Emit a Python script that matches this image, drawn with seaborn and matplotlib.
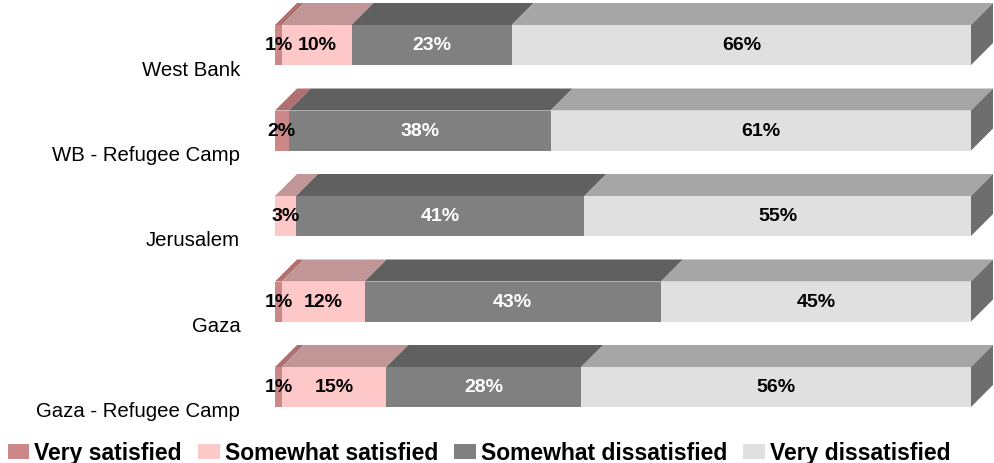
import matplotlib
matplotlib.use("Agg")
import matplotlib.pyplot as plt
import seaborn as sns
import numpy as np
from matplotlib.patches import Polygon, Patch

categories = ["West Bank", "WB - Refugee Camp", "Jerusalem", "Gaza", "Gaza - Refugee Camp"]
series_names = ["Very satisfied", "Somewhat satisfied", "Somewhat dissatisfied", "Very dissatisfied"]
very_satisfied = [1, 2, 0, 1, 1]
somewhat_satisfied = [10, 0, 3, 12, 15]
somewhat_dissatisfied = [23, 38, 41, 43, 28]
very_dissatisfied = [66, 61, 55, 45, 56]

front_colors = ["#CC8888", "#FFC8C8", "#808080", "#E0E0E0"]
top_colors = ["#B07070", "#C09696", "#606060", "#A6A6A6"]
side_color = "#6E6E6E"
label_colors = ["black", "black", "white", "black"]

sns.set_style("white")
plt.rcParams['font.family'] = ['Liberation Sans', 'DejaVu Sans']
plt.rcParams['text.color'] = 'black'
plt.rcParams['ytick.color'] = 'black'

W, H = 994, 464
fig = plt.figure(figsize=(W / 100, H / 100), dpi=100)
ax_left, ax_right = 275, 971
ax_top, ax_bot = 0, 420
ax = fig.add_axes([ax_left / W, 1 - ax_bot / H, (ax_right - ax_left) / W, (ax_bot - ax_top) / H])

px_per_unit_x = (ax_right - ax_left) / 100.0
px_per_cat = 85.5
c0 = 46
bar_h = 40 / px_per_cat
dx = 22 / px_per_unit_x
dy = 22 / px_per_cat

data = np.array([very_satisfied, somewhat_satisfied, somewhat_dissatisfied, very_dissatisfied], dtype=float)
# 100% stacked: normalise each category to its total
share = data / data.sum(axis=0, keepdims=True) * 100
cum = np.cumsum(share, axis=0)
lefts = cum - share

# front faces via seaborn (draw largest cumulative first)
for k in range(3, -1, -1):
    sns.barplot(x=cum[k], y=categories, order=categories, orient="h", color=front_colors[k],
                saturation=1, width=bar_h, ax=ax, linewidth=0)

ax.set_xlim(0, 100)
ax.set_ylim((ax_bot - c0) / px_per_cat, (ax_top - c0) / px_per_cat)

# 3D top and side faces
for i in range(len(categories)):
    ytop = i - bar_h / 2
    ybot = i + bar_h / 2
    for k in range(4):
        l, r = lefts[k, i], cum[k, i]
        if r - l <= 0:
            continue
        poly = Polygon([(l, ytop), (r, ytop), (r + dx, ytop - dy), (l + dx, ytop - dy)],
                       closed=True, facecolor=top_colors[k], edgecolor="none", clip_on=False)
        ax.add_patch(poly)
    r = cum[3, i]
    side = Polygon([(r, ytop), (r + dx, ytop - dy), (r + dx, ybot - dy), (r, ybot)],
                   closed=True, facecolor=side_color, edgecolor="none", clip_on=False)
    ax.add_patch(side)
    # value labels
    for k in range(4):
        v = data[k, i]
        if v <= 0:
            continue
        ax.text((lefts[k, i] + cum[k, i]) / 2, i, f"{int(v)}%", ha="center", va="center",
                fontsize=14, fontweight="bold", color=label_colors[k])

ax.set_yticks(np.arange(len(categories)) + dy)
ax.set_yticklabels(categories, fontsize=14.7, color="black")
ax.tick_params(axis="y", length=0, pad=25)
ax.set_xticks([])
ax.set_xlabel("")
ax.set_ylabel("")
for s in ax.spines.values():
    s.set_visible(False)

handles = [Patch(facecolor=front_colors[k], edgecolor="none", label=series_names[k]) for k in range(4)]
fig.legend(handles=handles, loc="lower left", bbox_to_anchor=(-0.005, -0.03), ncol=4, frameon=False,
           prop={"weight": "bold", "size": 16.5}, handlelength=0.95, handleheight=0.65,
           handletextpad=0.22, columnspacing=0.7, borderaxespad=0.15)

fig.savefig("out.png", dpi=100)
